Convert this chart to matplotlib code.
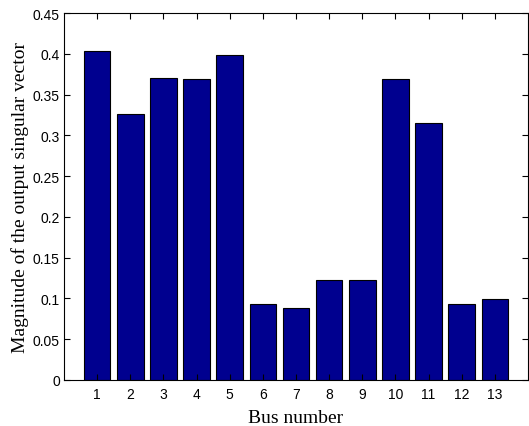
import matplotlib
matplotlib.use("Agg")
import matplotlib.pyplot as plt
import numpy as np

buses = list(range(1, 14))
values = [0.404, 0.3265, 0.370, 0.369, 0.398, 0.0928, 0.0887, 0.1222, 0.1222, 0.369, 0.3155, 0.0928, 0.0997]
yticks = [0, 0.05, 0.1, 0.15, 0.2, 0.25, 0.3, 0.35, 0.4, 0.45]
ytick_labels = ["0", "0.05", "0.1", "0.15", "0.2", "0.25", "0.3", "0.35", "0.4", "0.45"]

fig = plt.figure(figsize=(5.29, 4.27), dpi=100)
ax = fig.add_axes([64/529, 1 - 381/427, (528 - 64)/529, (381 - 14)/427])
ax.bar(buses, values, width=0.8, color="#00008F", edgecolor="black", linewidth=0.8)
ax.set_xlim(0, 14)
ax.set_ylim(0, 0.45)
ax.set_xticks(buses)
ax.set_xticklabels([str(b) for b in buses], fontfamily="Liberation Sans", fontsize=10)
ax.set_yticks(yticks)
ax.set_yticklabels(ytick_labels, fontfamily="Liberation Sans", fontsize=10)
ax.tick_params(direction="in", top=True, right=True, length=4, width=0.8)
ax.tick_params(axis="y", pad=3)
ax.tick_params(axis="x", pad=5)
for s in ax.spines.values():
    s.set_linewidth(0.8)
ax.set_xlabel("Bus number", fontfamily="Liberation Serif", fontsize=14, labelpad=6)
ax.set_ylabel("Magnitude of the output singular vector", fontfamily="Liberation Serif", fontsize=14, labelpad=3)
fig.savefig("out.png", dpi=100)
